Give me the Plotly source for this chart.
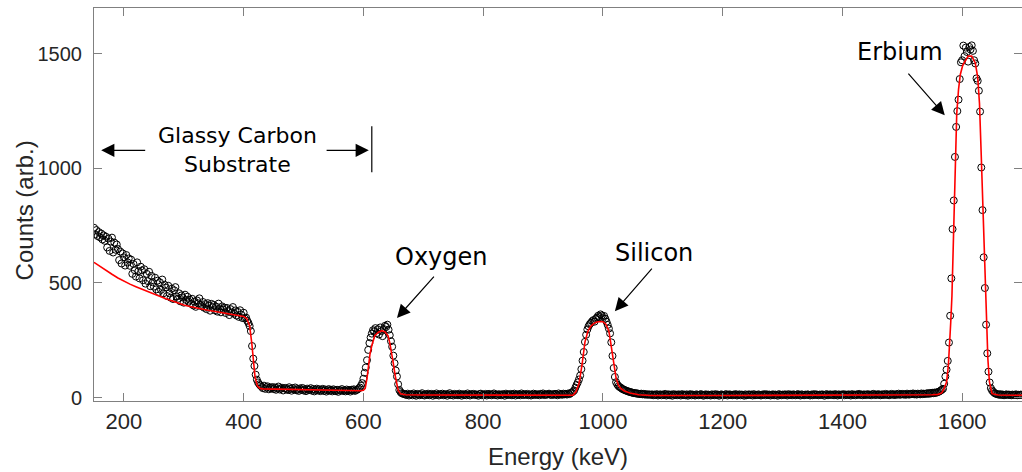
import numpy as np
import plotly.graph_objects as go

# ---------------- data ----------------
energy_start = 150.0   # keV, first channel
energy_step = 2.0      # keV per channel

# measured counts, split by region (2 keV channels)
counts_substrate = [  # 150-408 keV
    741, 712, 731, 705, 722, 699, 716, 690, 708, 684,
    702, 655, 694, 640, 681, 698, 633, 676, 645, 668,
    648, 600, 637, 585, 629, 612, 576, 622, 590, 607,
    575, 602, 540, 583, 556, 528, 590, 551, 520, 571,
    555, 512, 560, 497, 540, 508, 549, 486, 531, 503,
    484, 523, 472, 510, 461, 503, 470, 515, 455, 492,
    480, 443, 488, 455, 436, 475, 430, 468, 482, 441,
    431, 455, 420, 446, 437, 414, 449, 426, 440, 418,
    427, 409, 431, 402, 419, 396, 424, 411, 433, 404,
    398, 417, 392, 408, 386, 412, 401, 379, 409, 395,
    404, 381, 397, 375, 410, 389, 372, 398, 384, 392,
    369, 391, 377, 360, 386, 371, 395, 366, 380, 358,
    374, 352, 381, 362, 347, 370, 345, 349, 335, 325,
]
counts_oxygen = [  # 410-668 keV
    312, 290, 225, 170, 138, 100, 78, 66, 58, 52,
    47, 41, 52, 38, 45, 49, 36, 43, 40, 46,
    37, 44, 34, 41, 48, 35, 39, 43, 31, 40,
    42, 36, 33, 45, 38, 30, 41, 35, 44, 32,
    37, 29, 40, 34, 42, 31, 36, 28, 39, 33,
    35, 41, 30, 37, 27, 34, 39, 31, 36, 28,
    33, 38, 29, 35, 26, 32, 37, 30, 34, 27,
    36, 31, 28, 34, 25, 33, 30, 37, 29, 32,
    27, 35, 30, 33, 26, 34, 31, 36, 29, 33,
    35, 39, 44, 52, 63, 82, 108, 131, 163, 208,
    238, 262, 279, 294, 289, 303, 281, 298, 275, 306,
    290, 268, 299, 313, 308, 318, 296, 272, 246, 222,
    183, 150, 118, 92, 58, 33, 24, 19, 17, 15,
]
counts_gap1 = [  # 670-948 keV
    14, 11, 17, 9, 13, 15, 10, 18, 12, 8,
    16, 13, 10, 14, 19, 11, 9, 15, 12, 17,
    10, 13, 16, 8, 14, 11, 18, 12, 9, 15,
    13, 17, 10, 12, 15, 8, 14, 19, 11, 13,
    9, 16, 12, 14, 10, 17, 13, 8, 15, 11,
    14, 10, 18, 12, 9, 15, 13, 16, 11, 14,
    12, 8, 15, 17, 10, 13, 11, 16, 9, 14,
    16, 12, 10, 14, 18, 11, 13, 9, 15, 12,
    10, 15, 13, 8, 17, 12, 14, 11, 16, 10,
    13, 17, 9, 14, 12, 15, 10, 18, 13, 11,
    15, 12, 16, 10, 14, 9, 13, 17, 11, 15,
    12, 14, 10, 16, 13, 18, 11, 14, 12, 15,
    17, 13, 11, 15, 12, 16, 14, 10, 18, 13,
    15, 12, 17, 14, 16, 13, 18, 15, 19, 22,
]
counts_silicon = [  # 950-1078 keV
    26, 31, 43, 55, 66, 79, 96, 124, 161, 199,
    243, 274, 297, 311, 320, 326, 333, 338, 331, 343,
    349, 357, 351, 363, 358, 347, 356, 344, 331, 317,
    301, 280, 241, 182, 129, 90, 67, 57, 50, 46,
    43, 38, 36, 33, 31, 29, 27, 25, 24, 22,
    21, 19, 20, 17, 18, 16, 15, 17, 14, 16,
    13, 15, 12, 14, 13,
]
counts_gap2 = [  # 1080-1558 keV
    12, 14, 10, 13, 11, 15, 9, 12, 14, 10,
    13, 11, 16, 9, 12, 14, 10, 13, 8, 15,
    11, 13, 10, 14, 12, 9, 15, 11, 13, 10,
    14, 8, 12, 15, 10, 13, 11, 9, 14, 12,
    10, 13, 15, 11, 8, 12, 14, 10, 13, 11,
    9, 14, 12, 10, 15, 11, 13, 8, 12, 14,
    11, 10, 13, 15, 9, 12, 14, 11, 10, 13,
    12, 15, 9, 11, 14, 10, 13, 12, 8, 14,
    10, 12, 14, 11, 13, 9, 15, 10, 12, 11,
    14, 11, 9, 13, 12, 15, 10, 14, 11, 13,
    9, 12, 14, 10, 13, 11, 8, 15, 12, 10,
    13, 11, 14, 12, 9, 15, 11, 13, 10, 14,
    12, 10, 13, 15, 11, 9, 14, 12, 10, 13,
    11, 14, 12, 9, 13, 10, 15, 11, 14, 12,
    10, 13, 11, 14, 12, 8, 13, 15, 10, 12,
    14, 11, 13, 10, 15, 12, 9, 14, 11, 13,
    12, 15, 10, 13, 11, 14, 12, 9, 15, 11,
    13, 10, 14, 12, 16, 11, 13, 10, 14, 12,
    11, 15, 12, 13, 10, 14, 16, 11, 13, 12,
    15, 12, 10, 14, 13, 11, 16, 12, 14, 10,
    13, 16, 12, 14, 11, 15, 13, 17, 12, 14,
    16, 13, 15, 12, 17, 14, 13, 16, 15, 18,
    14, 16, 13, 17, 15, 14, 18, 15, 17, 16,
    17, 19, 16, 20, 18, 21, 19, 22, 20, 23,
]
counts_erbium = [  # 1560-1658 keV
    24, 27, 30, 34, 38, 60, 92, 122, 160, 240,
    357, 520, 735, 860, 1050, 1181, 1250, 1300, 1390, 1463,
    1472, 1536, 1490, 1527, 1508, 1466, 1530, 1519, 1537, 1513,
    1472, 1458, 1393, 1382, 1339, 1248, 1004, 818, 612, 478,
    318, 193, 113, 66, 41, 31, 25, 20, 17, 15,
]
counts_tail = [  # 1660-1700 keV
    14, 12, 15, 11, 13, 10, 12, 14, 11, 13,
    12, 10, 13, 11, 12, 14, 10, 12, 11, 13, 12,
]

# simulated fit (keV, counts)
fit_energy = [150, 160, 170, 180, 190, 200, 210, 220, 230, 240, 250, 260, 270, 280,
              290, 300, 310, 320, 330, 340, 350, 360, 370, 380, 390, 400, 405, 410,
              413.5, 416, 419, 423, 427, 432, 450, 500, 550, 595, 600, 603, 606, 608,
              611, 614, 619, 625, 631, 636, 641, 644, 647, 650, 653, 656, 658, 662,
              670, 700, 800, 900, 945, 950, 955, 960, 965, 970, 975, 980, 985, 990,
              995, 1000, 1005, 1010, 1013, 1016, 1019, 1022, 1026, 1030, 1035, 1045,
              1060, 1080, 1200, 1400, 1500, 1550, 1560, 1566, 1570, 1574, 1577, 1579,
              1581, 1583, 1585.5, 1588.4, 1591, 1594, 1597, 1601, 1605, 1610, 1616,
              1622, 1626, 1629, 1632, 1635, 1637.5, 1640, 1643, 1645.6, 1648, 1650,
              1660, 1700]
fit_counts = [590, 572, 555, 538, 522, 508, 495, 484, 473, 462, 451, 441, 431, 422,
              412, 404, 397, 391, 386, 381, 377, 372, 367, 362, 358, 354, 345, 312,
              238, 170, 89, 50, 40, 38, 37, 34, 31, 30, 32, 40, 85, 140,
              190, 227, 270, 285, 292, 287, 270, 240, 199, 148, 97, 55, 32, 16,
              12, 11, 10, 10, 10, 10, 25, 60, 140, 242, 290, 312, 324, 330,
              332, 331, 320, 290, 240, 180, 125, 85, 53, 40, 30, 20,
              12, 9, 9, 9, 10, 12, 14, 20, 40, 68, 140, 213,
              330, 444, 704, 993, 1239, 1345, 1410, 1450, 1471, 1490, 1490,
              1460, 1398, 1283, 1051, 791, 560, 328, 169, 68, 32, 17,
              11, 10]

x_ticks = [200, 400, 600, 800, 1000, 1200, 1400, 1600]
y_ticks = [0, 500, 1000, 1500]

counts = (counts_substrate + counts_oxygen + counts_gap1 + counts_silicon
          + counts_gap2 + counts_erbium + counts_tail)
energy = energy_start + energy_step * np.arange(len(counts))
assert len(fit_energy) == len(fit_counts), (len(fit_energy), len(fit_counts))

# ---------------- figure ----------------
fig = go.Figure()
fig.add_trace(go.Scatter(
    x=energy, y=counts, mode="markers",
    marker=dict(symbol="circle-open", size=7, color="black", line=dict(width=1)),
    showlegend=False, hoverinfo="skip"))
fig.add_trace(go.Scatter(
    x=fit_energy, y=fit_counts, mode="lines",
    line=dict(color="#ff0000", width=1.6), showlegend=False))

axis_col = "#808080"
txt_col = "#262626"
fig.update_xaxes(range=[150, 1700], tickvals=x_ticks, ticks="inside", ticklen=8,
                 tickcolor=axis_col, showline=True, linecolor=axis_col, linewidth=1,
                 mirror="ticks", showgrid=False, zeroline=False, automargin=False,
                 ticklabelstandoff=1,
                 tickfont=dict(family="Liberation Sans, Arial", size=22, color=txt_col))
fig.update_yaxes(range=[-15, 1700], tickvals=y_ticks, ticks="inside", ticklen=8,
                 tickcolor=axis_col, showline=True, linecolor=axis_col, linewidth=1,
                 mirror="ticks", showgrid=False, zeroline=False, automargin=False,
                 ticklabelstandoff=7,
                 tickfont=dict(family="Liberation Sans, Arial", size=20, color=txt_col))

title_font = dict(family="Liberation Sans, Arial", size=24, color=txt_col)
glassy_font = dict(family="DejaVu Sans", size=22, color="black")
ann_font = dict(family="DejaVu Sans", size=24, color="black")
arrow_kw = dict(showarrow=True, arrowhead=2, arrowsize=2.2, arrowwidth=1.2,
                arrowcolor="black", axref="x", ayref="y", text="")
annotations = [
    dict(x=0.5, y=-0.14, xref="paper", yref="paper", text="Energy (keV)",
         showarrow=False, font=title_font, xanchor="center", yanchor="middle"),
    dict(x=-0.075, y=0.486, xref="paper", yref="paper", text="Counts (arb.)",
         textangle=-90, showarrow=False, font=title_font,
         xanchor="center", yanchor="middle"),
    dict(x=389, y=1081, text="Glassy Carbon<br>Substrate", showarrow=False, font=glassy_font),
    dict(x=730, y=613, text="Oxygen", showarrow=False, font=ann_font),
    dict(x=1086, y=630, text="Silicon", showarrow=False, font=ann_font),
    dict(x=1496, y=1507, text="Erbium", showarrow=False, font=ann_font),
    dict(x=162, y=1079, ax=238, ay=1079, **arrow_kw),
    dict(x=609, y=1079, ax=536, ay=1079, **arrow_kw),
    dict(x=656, y=347, ax=720, ay=534, **arrow_kw),
    dict(x=1020, y=377, ax=1084, ay=569, **arrow_kw),
    dict(x=1571, y=1232, ax=1508, ay=1420, **arrow_kw),
]
fig.update_layout(
    annotations=annotations,
    shapes=[dict(type="line", xref="x", yref="y", x0=614, x1=614, y0=983, y1=1184,
                 line=dict(color="black", width=1.2))],
    width=1022, height=472,
    margin=dict(l=94, r=0, t=8, b=71, autoexpand=False),
    paper_bgcolor="white", plot_bgcolor="white",
)
fig.write_html("out.html", config={"displayModeBar": False},
               post_script="document.body.style.margin='0';document.body.style.overflow='hidden';")
